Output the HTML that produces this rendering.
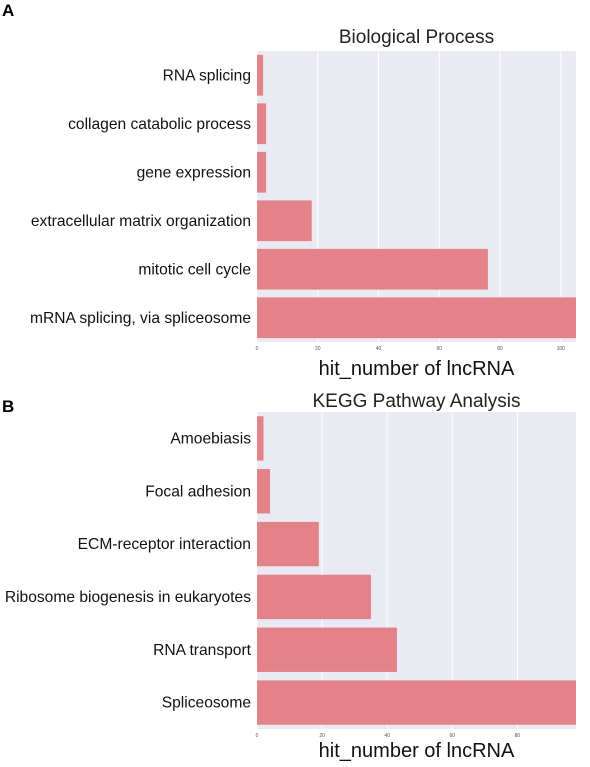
<!DOCTYPE html>
<html><head><meta charset="utf-8"><style>
body{margin:0;background:#fff;font-family:"Liberation Sans",Arial,sans-serif}
svg text{font-family:"Liberation Sans",Arial,sans-serif}
</style></head><body>
<svg id="c" width="590" height="762" xmlns="http://www.w3.org/2000/svg"></svg>
<script>
const catsA=["RNA splicing","collagen catabolic process","gene expression","extracellular matrix organization","mitotic cell cycle","mRNA splicing, via spliceosome"];
const valsA=[2,3,3,18,76,105];
const ticksA=[0,20,40,60,80,100];
const catsB=["Amoebiasis","Focal adhesion","ECM-receptor interaction","Ribosome biogenesis in eukaryotes","RNA transport","Spliceosome"];
const valsB=[2,4,19,35,43,98];
const ticksB=[0,20,40,60,80];
const NS="http://www.w3.org/2000/svg";
const svg=document.getElementById('c');
function mk(t,a,txt){const e=document.createElementNS(NS,t);for(const k in a)e.setAttribute(k,a[k]);if(txt!==undefined)e.textContent=txt;svg.appendChild(e);return e;}
function panel(id,letter,letterY,title,titleY,cats,vals,ticks,xmax,top,bottom,xlabY){
  const L=257,R=576;
  const x=v=>L+(v/xmax)*(R-L);
  const band=(bottom-top)/cats.length;
  let e=mk('text',{x:2,y:letterY,'font-size':17,'font-weight':'bold',fill:'#000'},letter);
  
  
  e=mk('text',{x:(L+R)/2,y:titleY,'font-size':19,'text-anchor':'middle',fill:'#222'},title);
  
  
  e=mk('rect',{x:L,y:top,width:R-L,height:bottom-top,fill:'#eaeaf2'});
  
  
  ticks.forEach(t=>{
    e=mk('line',{x1:x(t),x2:x(t),y1:top,y2:bottom,stroke:'#fff','stroke-width':1});
    
    
    e=mk('text',{x:x(t),y:bottom+8,'font-size':5,'text-anchor':'middle',fill:'#555'},t);
    
    
  });
  cats.forEach((c,i)=>{
    const y0=top+i*band;
    e=mk('rect',{x:L,y:y0+band*0.08,width:x(vals[i])-L,height:band*0.84,fill:'#e4828a'});
    
    
    e=mk('text',{x:L-6,y:y0+band/2+5,'font-size':15.6,'text-anchor':'end',fill:'#111'},c);
    
    
  });
  e=mk('text',{x:(L+R)/2,y:xlabY,'font-size':20,'text-anchor':'middle',fill:'#111'},'hit_number of lncRNA');
  
  
}
panel('a','A',16,'Biological Process',43,catsA,valsA,ticksA,105,51,342,375);
panel('b','B',412,'KEGG Pathway Analysis',407,catsB,valsB,ticksB,98,412,729,757);
</script>
</body></html>
